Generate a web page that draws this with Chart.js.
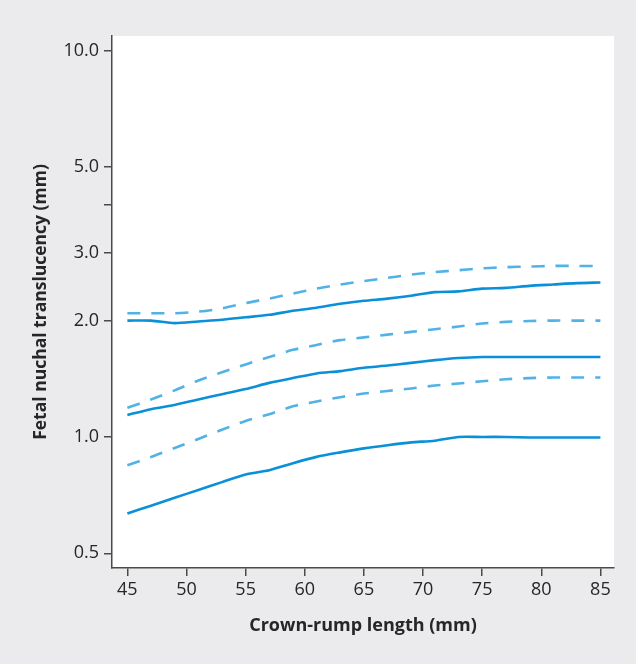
<!DOCTYPE html>
<html>
<head>
<meta charset="utf-8">
<script src="https://cdn.jsdelivr.net/npm/chart.js@4.4.1/dist/chart.umd.min.js"></script>
<style>
  html, body { margin: 0; padding: 0; background: #ebebed; }
  #wrap { width: 636px; height: 664px; }
</style>
</head>
<body>
<div id="wrap"><canvas id="chartCanvas" width="636" height="664"></canvas></div>
<script>
// crown-rump length (mm)
const crl = [45, 47, 49, 51, 53, 55, 57, 59, 61, 63, 65, 67, 69, 71, 73, 75, 77, 79, 81, 83, 85];

// solid lines
const solidLow = [0.634, 0.664, 0.696, 0.729, 0.764, 0.80, 0.82, 0.855, 0.888, 0.912, 0.934, 0.952, 0.968, 0.978, 1.0, 1.0, 1.0, 0.997, 0.997, 0.997, 0.997];
const solidMid = [1.14, 1.18, 1.21, 1.25, 1.29, 1.33, 1.38, 1.42, 1.46, 1.48, 1.51, 1.53, 1.555, 1.58, 1.6, 1.61, 1.61, 1.61, 1.61, 1.61, 1.61];
const solidHigh = [2.0, 2.0, 1.97, 1.99, 2.01, 2.04, 2.07, 2.12, 2.16, 2.21, 2.25, 2.28, 2.32, 2.37, 2.38, 2.42, 2.43, 2.46, 2.48, 2.5, 2.51];

// dashed lines
const dashLow = [0.845, 0.887, 0.936, 0.988, 1.044, 1.1, 1.145, 1.2, 1.235, 1.267, 1.295, 1.315, 1.335, 1.358, 1.375, 1.393, 1.41, 1.42, 1.425, 1.425, 1.425];
const dashMid = [1.19, 1.25, 1.32, 1.4, 1.47, 1.54, 1.61, 1.68, 1.73, 1.78, 1.81, 1.84, 1.87, 1.9, 1.93, 1.965, 1.985, 1.995, 2.0, 2.0, 2.0];
const dashHigh = [2.09, 2.09, 2.09, 2.11, 2.15, 2.22, 2.28, 2.35, 2.42, 2.48, 2.53, 2.58, 2.63, 2.67, 2.7, 2.73, 2.75, 2.76, 2.77, 2.77, 2.77];

const xTicks = [45, 50, 55, 60, 65, 70, 75, 80, 85];
const yTicks = [0.5, 1, 2, 3, 4, 5, 10];
const yLabelled = [0.5, 1, 2, 3, 5, 10];

const SOLID = "#0a90d8";
const DASH = "#52b2e6";
const AXIS = "#4a4a4a";
const TEXT = "#262626";
const FONT = "'Open Sans', 'Noto Sans', sans-serif";

function pts(ys) {
  return crl.map((x, i) => ({ x: x, y: ys[i] }));
}

function lineSet(ys, dashed) {
  return {
    data: pts(ys),
    borderColor: dashed ? DASH : SOLID,
    borderWidth: 2.6,
    borderDash: dashed ? [13, 11] : [],
    pointRadius: 0,
    fill: false,
    tension: 0.25
  };
}

// paints the white plot area
const plotBg = {
  id: "plotBg",
  beforeDraw(chart) {
    const { ctx, chartArea: a } = chart;
    ctx.save();
    ctx.fillStyle = "#ffffff";
    ctx.fillRect(a.left, a.top, a.right - a.left, a.bottom - a.top);
    ctx.restore();
  }
};

const ctx = document.getElementById("chartCanvas").getContext("2d");
new Chart(ctx, {
  type: "line",
  data: {
    datasets: [
      lineSet(dashHigh, true),
      lineSet(solidHigh, false),
      lineSet(dashMid, true),
      lineSet(solidMid, false),
      lineSet(dashLow, true),
      lineSet(solidLow, false)
    ]
  },
  options: {
    responsive: false,
    animation: false,
    devicePixelRatio: 1,
    layout: { padding: { left: 0, top: 36, right: 22, bottom: 0 } },
    plugins: { legend: { display: false }, tooltip: { enabled: false } },
    scales: {
      x: {
        type: "linear",
        min: 43.7,
        max: 86.15,
        afterFit: s => { s.height = 96; },
        afterBuildTicks: s => { s.ticks = xTicks.map(v => ({ value: v })); },
        border: { display: true, color: AXIS, width: 1.5 },
        grid: { drawOnChartArea: false, drawTicks: true, tickLength: 8, color: AXIS, lineWidth: 1.5 },
        ticks: { color: TEXT, font: { family: FONT, size: 18 }, padding: 3, maxRotation: 0 },
        title: {
          display: true,
          text: "Crown-rump length (mm)",
          color: TEXT,
          font: { family: FONT, size: 18, weight: "bold", lineHeight: 1.2 },
          padding: { top: 0, bottom: 27 }
        }
      },
      y: {
        type: "logarithmic",
        min: 0.458,
        max: 10.9,
        afterFit: s => { s.width = 112; },
        afterBuildTicks: s => { s.ticks = yTicks.map(v => ({ value: v })); },
        border: { display: true, color: AXIS, width: 1.5 },
        grid: { drawOnChartArea: false, drawTicks: true, tickLength: 8, color: AXIS, lineWidth: 1.5 },
        ticks: {
          color: TEXT,
          font: { family: FONT, size: 18 },
          padding: 5,
          callback: v => yLabelled.includes(v) ? v.toFixed(1) : ""
        },
        title: {
          display: true,
          text: "Fetal nuchal translucency (mm)",
          color: TEXT,
          font: { family: FONT, size: 17.5, weight: "bold", lineHeight: 1.2 },
          padding: { top: 31, bottom: 0 }
        }
      }
    }
  },
  plugins: [plotBg]
});
</script>
</body>
</html>
